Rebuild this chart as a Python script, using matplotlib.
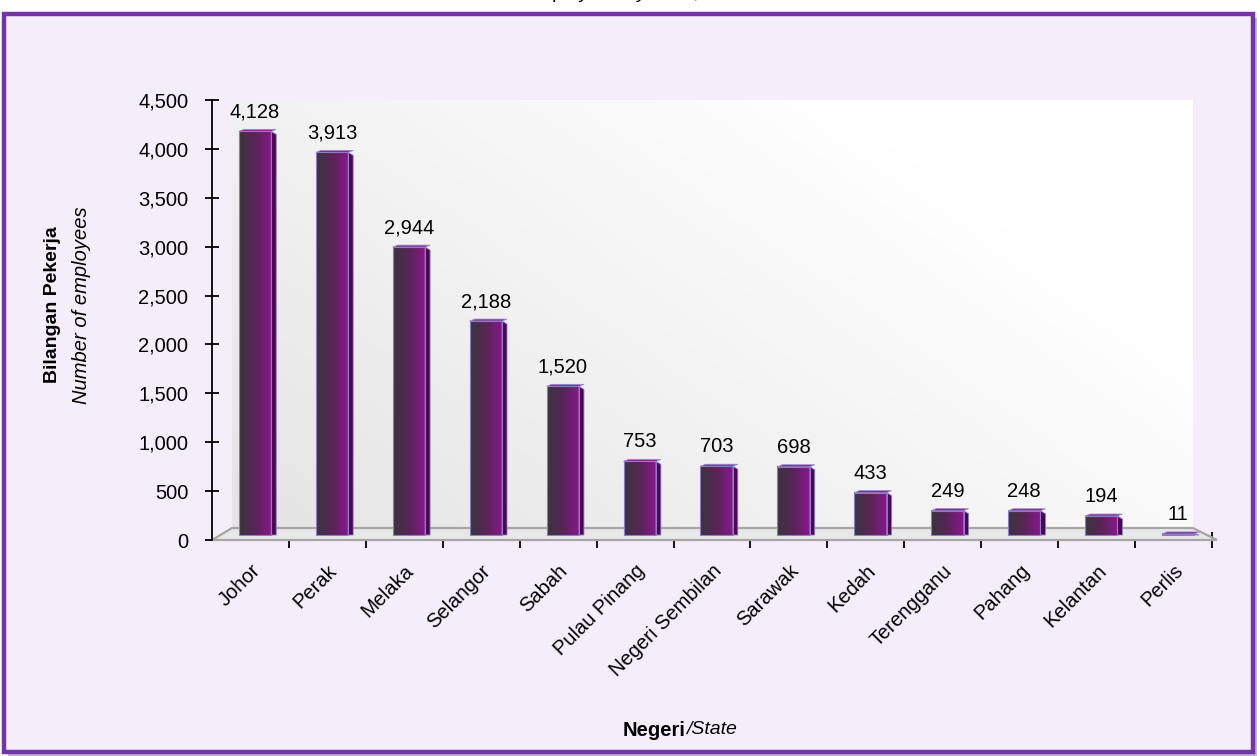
import numpy as np
import matplotlib
matplotlib.use("Agg")
import matplotlib.pyplot as plt
from matplotlib.patches import Polygon, Rectangle
from matplotlib.colors import LinearSegmentedColormap
from matplotlib.transforms import ScaledTranslation

plt.rcParams['font.family'] = ['Liberation Sans', 'DejaVu Sans']

# data
states = ['Johor', 'Perak', 'Melaka', 'Selangor', 'Sabah', 'Pulau Pinang',
          'Negeri Sembilan', 'Sarawak', 'Kedah', 'Terengganu', 'Pahang',
          'Kelantan', 'Perlis']
employees = [4128, 3913, 2944, 2188, 1520, 753, 703, 698, 433, 249, 248, 194, 11]
y_ticks = list(range(0, 4501, 500))

W, H = 1257, 756
fig = plt.figure(figsize=(W / 100, H / 100), dpi=100)
fig.patch.set_facecolor('white')

# outer frame with shadow
fig.patches.append(Rectangle((8 / W, 0), 1.0, 1 - 18 / H, transform=fig.transFigure,
                             facecolor='#BDBAC2', edgecolor='none', zorder=-3))
fig.patches.append(Rectangle((4 / W, 4 / H), (W - 8) / W, 1 - 18 / H, transform=fig.transFigure,
                             facecolor='#F3EEF9', edgecolor='#7434A6', linewidth=3.2, zorder=-2))

# cut-off title at the very top
fig.text(430 / W, 1 + 1.5 / H, 'Number of employees by state, 2015', fontsize=14,
         style='italic', ha='left', va='baseline')

ax = fig.add_axes([212 / W, (H - 540) / H, 1000 / W, 440 / H])
ax.set_facecolor('none')
ax.set_xlim(0, 13)
ax.set_ylim(0, 4500)

px_x = 13 / 1000
px_y = 4500 / 440

# back wall with soft gradient
gx, gy = np.meshgrid(np.linspace(0, 1, 200), np.linspace(0, 1, 100))
wall_cmap = LinearSegmentedColormap.from_list('wall', ['#E4E4E4', '#FFFFFF'])
ax.imshow(np.clip(gx * 0.8 + gy * 0.5, 0, 1), cmap=wall_cmap, origin='lower', aspect='auto',
          extent=[20 * px_x, 981 * px_x, 12 * px_y, 4500], zorder=1, clip_on=False)

# floor
floor = Polygon([(0, 0), (1005 * px_x, 0), (981 * px_x, 12 * px_y), (20 * px_x, 12 * px_y)],
                closed=True, facecolor='#E8E8E8', edgecolor='#A6A6A6', linewidth=1.6,
                zorder=2, clip_on=False)
ax.add_patch(floor)

# bars with gradient front face, dark side face and a thin top
bar_cmap = LinearSegmentedColormap.from_list('bar', ['#38363E', '#5A2457', '#8A1690'])
grad = np.linspace(0, 1, 64).reshape(1, -1)
base = 5 * px_y
w = 0.42
for i, v in enumerate(employees):
    x0 = i + 0.35
    top = base + v
    ax.imshow(grad, cmap=bar_cmap, origin='lower', aspect='auto',
              extent=[x0, x0 + w, base, top], zorder=3)
    side = Polygon([(x0 + w, base), (x0 + w + 5 * px_x, base),
                    (x0 + w + 5 * px_x, max(top - 3 * px_y, base)), (x0 + w, top)],
                   closed=True, facecolor='#4A0850', edgecolor='#8A7FC0', linewidth=0.6, zorder=3)
    ax.add_patch(side)
    cap = Polygon([(x0, top), (x0 + w, top), (x0 + w + 5 * px_x, top + 2 * px_y),
                   (x0 + 5 * px_x, top + 2 * px_y)],
                  closed=True, facecolor='#7A2A86', edgecolor='#9A8AD0', linewidth=0.6, zorder=4)
    ax.add_patch(cap)
    ax.add_patch(Rectangle((x0, base), w, v, facecolor='none', edgecolor='#8E7CC8',
                           linewidth=0.8, zorder=4))
    ax.text(x0 + w / 2, top + 14 * px_y, f'{v:,}', ha='center', va='baseline',
            fontsize=14.5, zorder=5)

ax.set_xlim(0, 13)
ax.set_ylim(0, 4500)

for s in ['top', 'right', 'bottom']:
    ax.spines[s].set_visible(False)
ax.spines['left'].set_linewidth(1.3)
ax.spines['left'].set_zorder(6)

ax.set_yticks(y_ticks)
ax.set_yticklabels([f'{t:,}' for t in y_ticks], fontsize=14.5)
ax.tick_params(axis='y', direction='inout', length=10, width=1.3, pad=12)

ax.set_xticks(range(1, 14))
ax.set_xticklabels([])
ax.tick_params(axis='x', direction='inout', length=12, width=1.3)

off = ScaledTranslation(0 / 100, -21 / 100, fig.dpi_scale_trans)
for i, name in enumerate(states):
    ax.text(i + 0.5, 0, name, transform=ax.get_xaxis_transform() + off, rotation=45,
            ha='right', va='top', rotation_mode='anchor', fontsize=14.5)

# axis titles
fig.text(53 / W, 1 - 305 / H, 'Bilangan Pekerja', rotation=90, fontsize=14,
         fontweight='bold', ha='center', va='center')
fig.text(82 / W, 1 - 305 / H, 'Number of employees', rotation=90, fontsize=14.5,
         style='italic', ha='center', va='center')
fig.text(686 / W, 1 - 730 / H, 'Negeri', fontsize=14.5, fontweight='bold',
         ha='right', va='center')
fig.text(686 / W, 1 - 730 / H, '/State', fontsize=14, style='italic',
         ha='left', va='center')

fig.savefig('out.png', dpi=100)
